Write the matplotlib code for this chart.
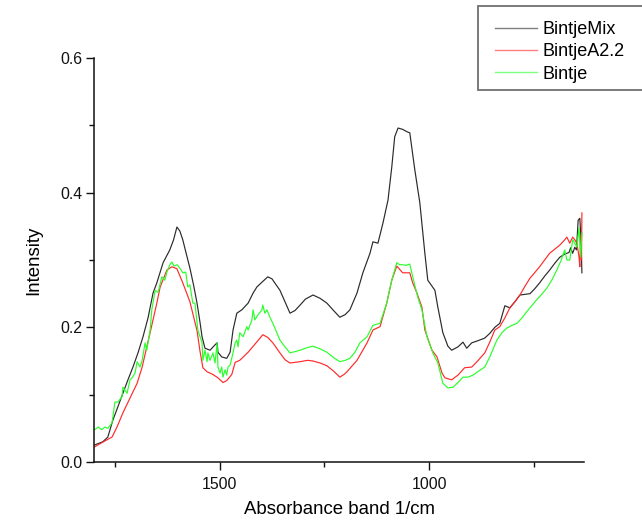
import matplotlib
matplotlib.use("Agg")
import matplotlib.pyplot as plt
from matplotlib.patches import Rectangle
from matplotlib.ticker import MultipleLocator

plt.rcParams["font.family"] = ["Liberation Sans", "DejaVu Sans"]

# ---- FTIR absorbance spectra (wavenumber in 1/cm, intensity) ----
wn_mix = [1800, 1779, 1767, 1755, 1743, 1731, 1719, 1707, 1695, 1683, 1671, 1659,
          1650, 1635, 1619, 1610, 1602, 1595, 1588, 1580, 1571, 1562, 1554, 1547,
          1542, 1535, 1523, 1511, 1506, 1504, 1495, 1483, 1475, 1468, 1459, 1447,
          1432, 1420, 1411, 1399, 1385, 1375, 1365, 1356, 1344, 1332, 1320, 1308,
          1295, 1277, 1260, 1244, 1228, 1213, 1200, 1189, 1172, 1158, 1141, 1134,
          1122, 1110, 1098, 1089, 1082, 1074, 1063, 1051, 1046, 1034, 1022, 1010,
          1003, 986, 979, 967, 955, 946, 931, 919, 910, 898, 884, 867, 855, 843,
          831, 819, 807, 795, 783, 771, 759, 748, 736, 724, 712, 700, 688, 676,
          666, 662, 657, 652, 648, 644, 640, 637, 635]
mix = [0.025, 0.030, 0.037, 0.062, 0.082, 0.102, 0.122, 0.141, 0.162, 0.186, 0.214, 0.251,
       0.266, 0.296, 0.315, 0.330, 0.349, 0.343, 0.330, 0.310, 0.288, 0.262, 0.236, 0.208,
       0.186, 0.169, 0.166, 0.174, 0.177, 0.163, 0.156, 0.154, 0.163, 0.196, 0.221, 0.226,
       0.236, 0.251, 0.260, 0.267, 0.275, 0.272, 0.263, 0.255, 0.238, 0.221, 0.225, 0.233,
       0.242, 0.248, 0.243, 0.236, 0.225, 0.215, 0.219, 0.226, 0.251, 0.281, 0.310, 0.327,
       0.325, 0.355, 0.389, 0.438, 0.483, 0.496, 0.494, 0.490, 0.489, 0.434, 0.385, 0.310,
       0.270, 0.255, 0.230, 0.192, 0.172, 0.166, 0.171, 0.178, 0.169, 0.177, 0.180, 0.184,
       0.191, 0.200, 0.206, 0.232, 0.229, 0.238, 0.248, 0.249, 0.250, 0.257, 0.266, 0.276,
       0.285, 0.295, 0.304, 0.309, 0.311, 0.318, 0.310, 0.319, 0.315, 0.359, 0.362, 0.330,
       0.281]

wn_a22 = [1800, 1769, 1757, 1745, 1731, 1714, 1697, 1685, 1674, 1666, 1650, 1642,
          1626, 1614, 1602, 1588, 1571, 1554, 1547, 1540, 1530, 1516, 1504, 1492,
          1483, 1471, 1463, 1452, 1432, 1409, 1397, 1385, 1373, 1356, 1344, 1332,
          1308, 1290, 1277, 1260, 1244, 1228, 1213, 1203, 1196, 1172, 1148, 1134,
          1117, 1101, 1089, 1077, 1063, 1046, 1039, 1029, 1017, 1010, 993, 981,
          969, 962, 946, 931, 915, 898, 884, 867, 855, 843, 831, 819, 807, 795,
          783, 771, 759, 748, 736, 724, 712, 700, 688, 676, 671, 664, 657, 652,
          647, 642, 640, 638, 636, 635]
a22 = [0.022, 0.033, 0.037, 0.052, 0.073, 0.095, 0.117, 0.141, 0.171, 0.192, 0.236, 0.260,
       0.285, 0.290, 0.287, 0.266, 0.238, 0.195, 0.165, 0.140, 0.134, 0.130, 0.125, 0.118,
       0.121, 0.130, 0.148, 0.151, 0.163, 0.180, 0.189, 0.185, 0.177, 0.162, 0.152, 0.147,
       0.149, 0.151, 0.150, 0.147, 0.143, 0.135, 0.126, 0.130, 0.134, 0.151, 0.177, 0.196,
       0.201, 0.236, 0.270, 0.291, 0.281, 0.281, 0.266, 0.251, 0.230, 0.196, 0.166, 0.156,
       0.132, 0.125, 0.122, 0.129, 0.140, 0.141, 0.150, 0.162, 0.178, 0.196, 0.201, 0.214,
       0.229, 0.238, 0.248, 0.261, 0.273, 0.281, 0.290, 0.300, 0.310, 0.316, 0.322, 0.330,
       0.334, 0.325, 0.334, 0.330, 0.325, 0.305, 0.290, 0.337, 0.300, 0.370]

wn_bintje = [1800, 1798, 1790, 1781, 1774, 1767, 1757, 1750, 1743, 1733, 1731, 1721,
             1714, 1709, 1702, 1697, 1690, 1685, 1678, 1674, 1666, 1662, 1654, 1647,
             1638, 1631, 1626, 1619, 1614, 1609, 1602, 1595, 1588, 1581, 1576, 1571,
             1564, 1559, 1552, 1542, 1540, 1535, 1530, 1528, 1523, 1516, 1511, 1506,
             1504, 1499, 1495, 1492, 1487, 1483, 1480, 1475, 1468, 1463, 1459, 1456,
             1452, 1444, 1435, 1432, 1423, 1420, 1416, 1409, 1399, 1397, 1392, 1387,
             1380, 1373, 1366, 1356, 1344, 1332, 1320, 1308, 1290, 1277, 1260, 1244,
             1228, 1213, 1200, 1189, 1177, 1165, 1148, 1134, 1117, 1101, 1089, 1077,
             1070, 1063, 1055, 1046, 1039, 1027, 1017, 1005, 991, 979, 967, 955, 943,
             931, 919, 907, 895, 884, 867, 855, 838, 826, 814, 802, 790, 778, 767,
             755, 743, 731, 719, 707, 695, 685, 676, 671, 664, 657, 652, 647, 642,
             638, 635]
bintje = [0.048, 0.048, 0.052, 0.048, 0.052, 0.050, 0.058, 0.089, 0.089, 0.097, 0.111, 0.102,
          0.122, 0.125, 0.132, 0.149, 0.141, 0.151, 0.177, 0.166, 0.196, 0.226, 0.255, 0.252,
          0.275, 0.270, 0.282, 0.293, 0.297, 0.291, 0.293, 0.288, 0.281, 0.282, 0.260, 0.263,
          0.236, 0.236, 0.196, 0.177, 0.151, 0.166, 0.149, 0.162, 0.151, 0.162, 0.147, 0.177,
          0.141, 0.132, 0.141, 0.126, 0.137, 0.129, 0.141, 0.144, 0.162, 0.177, 0.181, 0.171,
          0.192, 0.186, 0.201, 0.196, 0.211, 0.226, 0.211, 0.218, 0.226, 0.233, 0.221, 0.226,
          0.215, 0.206, 0.196, 0.181, 0.171, 0.162, 0.164, 0.166, 0.170, 0.172, 0.168, 0.163,
          0.155, 0.149, 0.151, 0.154, 0.163, 0.177, 0.186, 0.203, 0.206, 0.236, 0.270, 0.296,
          0.293, 0.293, 0.292, 0.294, 0.275, 0.245, 0.226, 0.186, 0.162, 0.147, 0.117, 0.110,
          0.111, 0.118, 0.126, 0.126, 0.129, 0.134, 0.141, 0.156, 0.181, 0.192, 0.199, 0.203,
          0.206, 0.214, 0.223, 0.232, 0.241, 0.249, 0.258, 0.270, 0.285, 0.299, 0.315, 0.300,
          0.300, 0.330, 0.325, 0.319, 0.348, 0.304, 0.340]

series_labels = ["BintjeMix", "BintjeA2.2", "Bintje"]
x_ticks = [1500, 1000]
y_ticks = [0.0, 0.2, 0.4, 0.6]

W, H = 642, 524
fig = plt.figure(figsize=(W / 100, H / 100), dpi=100)
ax = fig.add_axes([94 / W, 1 - 462 / H, (584 - 94) / W, (462 - 58) / H])

ax.plot(wn_mix, mix, color="#2a2a2a", lw=0.85, label=series_labels[0])
ax.plot(wn_a22, a22, color="#ff2a2a", lw=0.85, label=series_labels[1])
ax.plot(wn_bintje, bintje, color="#2aff2a", lw=0.85, label=series_labels[2])

ax.set_xlim(1800, 630)
ax.set_ylim(0, 0.6)
ax.set_xticks(x_ticks)
ax.set_yticks(y_ticks)
ax.set_yticklabels([f"{v:.1f}" for v in y_ticks])
ax.xaxis.set_minor_locator(MultipleLocator(250))
ax.yaxis.set_minor_locator(MultipleLocator(0.1))

for side in ("top", "right"):
    ax.spines[side].set_visible(False)
for side in ("left", "bottom"):
    ax.spines[side].set_linewidth(1.1)
    ax.spines[side].set_color("#111111")

ax.tick_params(which="major", length=5.5, width=1.0, labelsize=11.4, pad=3,
               colors="#111111")
ax.tick_params(which="minor", length=3.6, width=1.0, colors="#111111")
ax.tick_params(axis="x", which="major", pad=5)

ax.set_xlabel("Absorbance band 1/cm", fontsize=13.4, labelpad=7)
ax.set_ylabel("Intensity", fontsize=13.4, labelpad=13)

# legend box runs off the right edge of the canvas
frame = Rectangle((478 / W, 1 - 90 / H), 200 / W, 84 / H, transform=fig.transFigure,
                  facecolor="white", edgecolor="#707070", linewidth=1.3, zorder=5)
fig.patches.append(frame)

leg = fig.legend(loc="upper left", bbox_to_anchor=(484 / W, 1 - 10 / H),
                 fontsize=13, frameon=False, handlelength=2.33, handletextpad=0.33,
                 borderpad=0.6, labelspacing=0.3, borderaxespad=0)
leg.set_zorder(6)
for line in leg.get_lines():
    line.set_linewidth(1.0)
    line.set_alpha(0.6)

fig.savefig("out.png", dpi=100)
